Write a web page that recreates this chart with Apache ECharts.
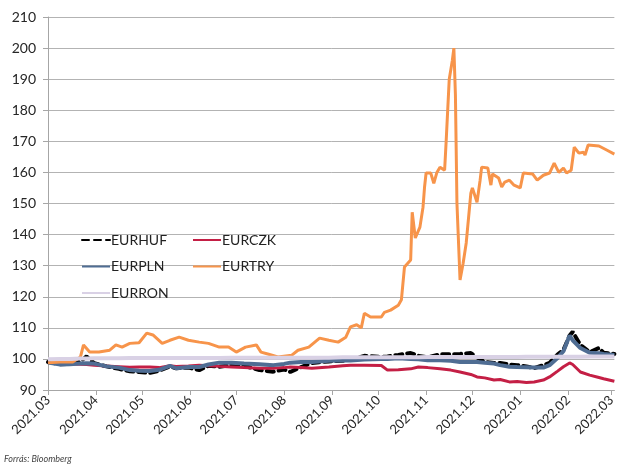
<!DOCTYPE html>
<html>
<head>
<meta charset="utf-8">
<script src="https://cdn.jsdelivr.net/npm/echarts@6/dist/echarts.min.js"></script>
<style>
  html, body { margin: 0; padding: 0; background: #fff; }
  #chart { width: 618px; height: 465px; }
</style>
</head>
<body>
<div id="chart"></div>
<script>
// közös dátumok (HUF, CZK, PLN, RON)
const dates = [
  '2021-03-01', '2021-03-09', '2021-03-15', '2021-03-22', '2021-03-26', '2021-03-31',
  '2021-04-08', '2021-04-16', '2021-04-23', '2021-04-29', '2021-05-06', '2021-05-12',
  '2021-05-19', '2021-05-23', '2021-05-31', '2021-06-07', '2021-06-13', '2021-06-20',
  '2021-06-28', '2021-07-06', '2021-07-16', '2021-07-25', '2021-08-01', '2021-08-05',
  '2021-08-12', '2021-08-19', '2021-08-30', '2021-09-08', '2021-09-13', '2021-09-22',
  '2021-10-03', '2021-10-07', '2021-10-14', '2021-10-22', '2021-10-27', '2021-11-02',
  '2021-11-10', '2021-11-17', '2021-11-23', '2021-11-30', '2021-12-04', '2021-12-09',
  '2021-12-15', '2021-12-19', '2021-12-25', '2021-12-30', '2022-01-05', '2022-01-10',
  '2022-01-16', '2022-01-20', '2022-01-25', '2022-01-29', '2022-02-02', '2022-02-04',
  '2022-02-09', '2022-02-15', '2022-02-21', '2022-02-24', '2022-03-03'
];
const eurhuf = [
  99.0, 98.3, 98.4, 99.2, 100.8, 98.6,
  97.6, 96.8, 96.0, 95.8, 95.5, 96.2,
  97.6, 97.0, 97.2, 96.4, 97.8, 97.5,
  98.0, 97.8, 96.4, 95.9, 96.6, 95.8,
  97.4, 98.7, 99.2, 99.4, 99.8, 101.0,
  100.6, 100.8, 101.3, 101.9, 101.0, 100.5,
  101.5, 101.5, 101.6, 101.9, 100.5, 99.0,
  98.7, 98.7, 98.2, 98.0, 97.6, 97.0,
  98.0, 98.7, 101.3, 102.9, 107.5, 108.7,
  104.5, 102.2, 103.5, 102.0, 101.6
];
const eurczk = [
  99.3, 98.6, 98.4, 98.3, 98.2, 98.0,
  97.7, 97.5, 97.3, 97.4, 97.4, 97.2,
  97.8, 97.6, 97.7, 98.0, 97.8, 97.6,
  97.4, 97.2, 97.0, 97.0, 97.2, 97.4,
  97.2, 97.0, 97.4, 97.8, 98.0, 98.0,
  97.9, 96.4, 96.5, 96.8, 97.4, 97.2,
  96.8, 96.4, 95.8, 95.0, 94.2, 93.9,
  93.2, 93.4, 92.6, 92.7, 92.4, 92.6,
  93.2, 94.2, 96.0, 97.5, 98.7, 98.2,
  95.8, 94.8, 94.0, 93.6, 92.8
];
const eurpln = [
  98.8, 98.2, 98.3, 98.5, 98.6, 98.5,
  97.6, 97.2, 96.4, 96.2, 96.1, 96.5,
  97.8, 97.0, 97.4, 97.4, 98.2, 98.8,
  98.8, 98.5, 98.3, 98.0, 98.4, 98.8,
  99.0, 99.0, 99.4, 99.5, 99.5, 99.8,
  100.0, 100.0, 100.2, 100.0, 99.9, 99.6,
  99.6, 99.4, 99.0, 99.0, 99.0, 98.8,
  98.5, 98.0, 97.5, 97.4, 97.3, 97.2,
  97.2, 98.0, 100.2, 102.5, 107.5, 106.0,
  103.5, 102.0, 101.8, 101.6, 101.3
];
const eurron = [
  99.9, 100.0, 100.0, 100.1, 100.1, 100.2,
  100.2, 100.2, 100.3, 100.3, 100.3, 100.3,
  100.3, 100.3, 100.3, 100.3, 100.3, 100.3,
  100.4, 100.4, 100.4, 100.4, 100.4, 100.4,
  100.4, 100.4, 100.4, 100.5, 100.5, 100.5,
  100.5, 100.5, 100.5, 100.5, 100.5, 100.6,
  100.6, 100.6, 100.6, 100.6, 100.6, 100.6,
  100.6, 100.6, 100.6, 100.6, 100.7, 100.7,
  100.7, 100.7, 100.7, 100.7, 100.7, 100.7,
  100.7, 100.8, 100.8, 100.8, 100.8
];

// EURTRY saját, sűrűbb dátumokkal
const tryDates = [
  '2021-03-01', '2021-03-09', '2021-03-17', '2021-03-22', '2021-03-24', '2021-03-28',
  '2021-04-03', '2021-04-10', '2021-04-14', '2021-04-18', '2021-04-23', '2021-04-29',
  '2021-05-04', '2021-05-08', '2021-05-14', '2021-05-19', '2021-05-25', '2021-05-31',
  '2021-06-07', '2021-06-13', '2021-06-20', '2021-06-26', '2021-07-01', '2021-07-07',
  '2021-07-14', '2021-07-17', '2021-07-22', '2021-07-28', '2021-08-06', '2021-08-10',
  '2021-08-17', '2021-08-24', '2021-08-30', '2021-09-05', '2021-09-10', '2021-09-13',
  '2021-09-17', '2021-09-20', '2021-09-22', '2021-09-26', '2021-10-03', '2021-10-05',
  '2021-10-09', '2021-10-14', '2021-10-16', '2021-10-18', '2021-10-22', '2021-10-23',
  '2021-10-25', '2021-10-28', '2021-10-30', '2021-10-31', '2021-11-01', '2021-11-04',
  '2021-11-06', '2021-11-08', '2021-11-10', '2021-11-13', '2021-11-14', '2021-11-16',
  '2021-11-18', '2021-11-19', '2021-11-20', '2021-11-21', '2021-11-23', '2021-11-25',
  '2021-11-27', '2021-11-30', '2021-12-01', '2021-12-04', '2021-12-06', '2021-12-07',
  '2021-12-11', '2021-12-13', '2021-12-14', '2021-12-18', '2021-12-20', '2021-12-22',
  '2021-12-25', '2021-12-28', '2022-01-01', '2022-01-03', '2022-01-09', '2022-01-12',
  '2022-01-16', '2022-01-20', '2022-01-23', '2022-01-26', '2022-01-29', '2022-01-31',
  '2022-02-03', '2022-02-05', '2022-02-08', '2022-02-11', '2022-02-12', '2022-02-14',
  '2022-02-21', '2022-02-26', '2022-02-27', '2022-03-03'
];
const eurtry = [
  98.8, 99.0, 99.0, 100.6, 104.5, 102.2,
  102.2, 102.8, 104.5, 103.8, 105.0, 105.2,
  108.3, 107.7, 105.0, 106.0, 107.0, 106.0,
  105.4, 105.0, 103.8, 103.8, 102.2, 103.8,
  104.5, 102.2, 101.5, 100.6, 101.2, 102.8,
  103.8, 106.7, 106.0, 105.4, 107.0, 110.3,
  111.0, 110.0, 114.7, 113.5, 113.5, 115.0,
  115.7, 117.3, 119.0, 129.6, 131.8, 147.2,
  138.9, 142.4, 148.8, 155.3, 159.8, 159.8,
  156.5, 160.0, 161.7, 160.7, 170.0, 190.0,
  196.0, 200.0, 185.0, 150.0, 125.4, 130.8,
  137.3, 153.3, 155.0, 150.4, 157.5, 161.7,
  161.4, 155.9, 159.5, 158.2, 155.3, 156.9,
  157.5, 155.9, 155.0, 159.8, 159.5, 157.5,
  159.1, 159.8, 163.0, 160.0, 161.4, 159.8,
  160.7, 168.1, 166.2, 166.5, 165.6, 168.8,
  168.5, 167.2, 167.8, 165.9
];

const tickLabels = ['2021.03', '2021.04', '2021.05', '2021.06', '2021.07', '2021.08', '2021.09',
  '2021.10', '2021.11', '2021.12', '2022.01', '2022.02', '2022.03'];

const DAY = 86400000;
const pairs = (xs, ys) => xs.map((d, i) => [d, ys[i]]);
const font = 'Lato, "Open Sans", sans-serif';

// tengelyfelirat a hónap kezdőnapjából
function monthLabel(v) {
  const d = new Date(v);
  const key = d.getFullYear() + '.' + String(d.getMonth() + 1).padStart(2, '0');
  return tickLabels.indexOf(key) >= 0 ? key : '';
}

const legendBase = {
  orient: 'vertical', top: 228, itemWidth: 28, itemHeight: 14, itemGap: 12.5,
  itemStyle: { opacity: 0 },
  textStyle: { color: '#222', fontSize: 14, fontFamily: font, padding: [0, 0, 0, -4] }
};

let mychart = echarts.init(document.getElementById('chart'));
let option = {
  animation: false,
  backgroundColor: '#fff',
  grid: { left: 48, right: 0, top: 17, bottom: 75 },
  legend: [
    Object.assign({ left: 76, data: ['EURHUF', 'EURPLN', 'EURRON'] }, legendBase),
    Object.assign({ left: 187, data: ['EURCZK', 'EURTRY'] }, legendBase)
  ],
  xAxis: {
    type: 'time',
    min: new Date(2021, 2, 1).getTime(),
    max: new Date(2022, 2, 3).getTime(),
    minInterval: 28 * DAY,
    maxInterval: 31 * DAY,
    axisLine: { show: true, lineStyle: { color: '#a6a6a6', width: 1 } },
    axisTick: { show: true, length: 5, lineStyle: { color: '#a6a6a6' } },
    splitLine: { show: false },
    axisLabel: {
      rotate: 45,
      margin: 8,
      color: '#262626',
      fontSize: 13,
      fontFamily: font,
      hideOverlap: false,
      formatter: v => monthLabel(v)
    }
  },
  yAxis: {
    type: 'value',
    min: 90,
    max: 210,
    interval: 10,
    axisLine: { show: true, lineStyle: { color: '#a6a6a6', width: 1 } },
    axisTick: { show: true, length: 5, lineStyle: { color: '#a6a6a6' } },
    splitLine: { show: true, lineStyle: { color: '#b3b3b3', width: 1 } },
    axisLabel: { color: '#262626', fontSize: 14, fontFamily: font, margin: 12 }
  },
  series: [
    {
      name: 'EURHUF', type: 'line', showSymbol: false, symbol: 'none',
      data: pairs(dates, eurhuf),
      itemStyle: { color: '#000' },
      lineStyle: { color: '#000', width: 4, type: [7, 5], cap: 'round' }
    },
    {
      name: 'EURCZK', type: 'line', showSymbol: false, symbol: 'none',
      data: pairs(dates, eurczk),
      itemStyle: { color: '#c41f45' },
      lineStyle: { color: '#c41f45', width: 3 }
    },
    {
      name: 'EURPLN', type: 'line', showSymbol: false, symbol: 'none',
      data: pairs(dates, eurpln),
      itemStyle: { color: '#4f6d93' },
      lineStyle: { color: '#4f6d93', width: 4 }
    },
    {
      name: 'EURTRY', type: 'line', showSymbol: false, symbol: 'none',
      data: pairs(tryDates, eurtry),
      itemStyle: { color: '#f7944a' },
      lineStyle: { color: '#f7944a', width: 3 }
    },
    {
      name: 'EURRON', type: 'line', showSymbol: false, symbol: 'none',
      data: pairs(dates, eurron),
      itemStyle: { color: '#d9d1e5' },
      lineStyle: { color: '#d9d1e5', width: 4 }
    }
  ],
  graphic: [
    {
      type: 'text', left: 4, top: 455,
      style: { text: 'Forrás: Bloomberg', fill: '#444', font: 'italic 9px ' + font }
    }
  ]
};
mychart.setOption(option);
</script>
</body>
</html>
